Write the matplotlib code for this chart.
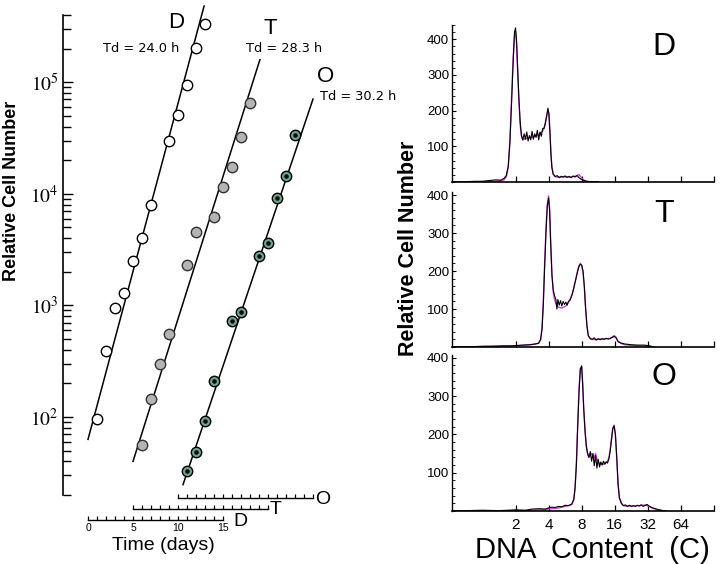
import numpy as np
import matplotlib
matplotlib.use('Agg')
import matplotlib.pyplot as plt
from matplotlib.ticker import FixedLocator, MultipleLocator, NullFormatter, FixedFormatter

plt.rcParams['font.family'] = ['Liberation Sans', 'DejaVu Sans']
plt.rcParams['mathtext.fontset'] = 'stix'

# ---- growth curves (days since start of each culture, relative cell number)
d_days = [1, 2, 3, 4, 5, 6, 7, 9, 10, 11, 12, 13]
d_cells = [95, 390, 940, 1300, 2500, 4000, 8000, 30000, 51000, 94000, 204000, 330000]
t_days = [1, 2, 3, 4, 6, 7, 9, 10, 11, 12, 13]
t_cells = [56, 145, 300, 550, 2300, 4500, 6200, 11500, 17500, 32000, 65000]
o_days = [1, 2, 3, 4, 6, 7, 9, 10, 11, 12, 13]
o_cells = [33, 49, 93, 210, 720, 865, 2750, 3650, 9200, 14500, 33500]
day_offsets = [0, 5, 10]            # where each culture's day 0 sits on the shared axis
doubling_h = [24.0, 28.3, 30.2]
fit_n0 = [63, 40, 18.2]             # fitted cell number at day 0
fit_span = [(0, 12.9), (0, 14.1), (0.56, 15.0)]

# ---- DNA histograms: position in doublings (log2 C), black = data, magenta = fit
hd_x = [-0.92, -0.5, -0.2, 0.0, 0.2, 0.4, 0.55, 0.65, 0.72, 0.78,
        0.83, 0.88, 0.93, 0.97, 1.0, 1.03, 1.06, 1.1, 1.14, 1.18,
        1.22, 1.26, 1.3, 1.34, 1.38, 1.42, 1.46, 1.5, 1.54, 1.58,
        1.62, 1.66, 1.7, 1.74, 1.78, 1.82, 1.86, 1.9, 1.94, 1.98,
        2.01, 2.04, 2.07, 2.1, 2.14, 2.2, 2.26, 2.32, 2.38, 2.44,
        2.5, 2.56, 2.62, 2.68, 2.74, 2.8, 2.86, 2.92, 2.98, 3.05,
        3.15, 3.3, 3.5]
hd_black = [0, 1, 2, 2, 4, 6, 5, 10, 18, 45,
            110, 220, 340, 420, 432, 400, 330, 240, 170, 130,
            118, 135, 120, 140, 115, 130, 118, 142, 120, 135,
            125, 145, 118, 140, 128, 150, 150, 165, 185, 207,
            190, 140, 80, 40, 22, 15, 18, 12, 16, 14,
            17, 13, 16, 12, 17, 14, 18, 12, 8, 5,
            2, 1, 0]
hd_fit = [0, 0, 0, 0, 1, 2, 3, 6, 14, 40,
          115, 235, 350, 410, 420, 390, 320, 230, 160, 128,
          118, 120, 121, 122, 123, 124, 125, 126, 127, 128,
          129, 131, 133, 136, 139, 143, 150, 163, 182, 200,
          192, 142, 82, 42, 22, 15, 14, 14, 14, 14,
          14, 14, 14, 14, 15, 16, 18, 21, 14, 6,
          2, 0, 0]

ht_x = [-0.92, -0.6, -0.3, 0.0, 0.3, 0.6, 0.9, 1.2, 1.45, 1.6,
        1.7, 1.76, 1.8, 1.84, 1.88, 1.92, 1.96, 2.0, 2.03, 2.06,
        2.1, 2.14, 2.18, 2.22, 2.25, 2.28, 2.32, 2.36, 2.4, 2.44,
        2.48, 2.52, 2.56, 2.6, 2.64, 2.68, 2.72, 2.76, 2.8, 2.84,
        2.88, 2.92, 2.96, 3.0, 3.04, 3.08, 3.12, 3.16, 3.2, 3.26,
        3.32, 3.38, 3.44, 3.5, 3.56, 3.62, 3.68, 3.74, 3.8, 3.86,
        3.92, 3.98, 4.04, 4.1, 4.2, 4.3, 4.5, 4.7, 4.9, 5.05,
        5.2]
ht_black = [0, 1, 1, 2, 2, 3, 3, 5, 6, 8,
            10, 20, 45, 110, 210, 300, 370, 392, 360, 280,
            190, 150, 135, 125, 100, 125, 110, 122, 108, 120,
            112, 118, 110, 120, 122, 130, 140, 155, 170, 185,
            200, 212, 218, 215, 200, 160, 100, 55, 30, 22,
            20, 24, 18, 22, 19, 22, 20, 23, 21, 22,
            25, 28, 24, 14, 10, 8, 6, 5, 5, 3,
            0]
ht_fit = [0, 0, 0, 1, 2, 2, 3, 4, 6, 8,
          10, 20, 50, 120, 220, 310, 375, 398, 365, 285,
          195, 145, 125, 115, 110, 106, 104, 103, 103, 104,
          106, 108, 112, 118, 124, 132, 142, 155, 170, 186,
          202, 214, 220, 215, 198, 158, 100, 55, 30, 22,
          20, 20, 20, 20, 21, 21, 21, 22, 22, 23,
          26, 30, 26, 15, 9, 6, 4, 3, 2, 1,
          0]

ho_x = [-0.92, -0.5, 0.0, 0.5, 1.0, 1.3, 1.5, 1.7, 1.9, 2.0,
        2.1, 2.2, 2.3, 2.4, 2.5, 2.6, 2.7, 2.76, 2.8, 2.84,
        2.88, 2.92, 2.96, 3.0, 3.03, 3.06, 3.1, 3.14, 3.18, 3.22,
        3.26, 3.3, 3.34, 3.38, 3.42, 3.46, 3.5, 3.54, 3.58, 3.62,
        3.66, 3.7, 3.74, 3.78, 3.82, 3.86, 3.9, 3.94, 3.98, 4.02,
        4.06, 4.1, 4.14, 4.2, 4.26, 4.32, 4.38, 4.44, 4.5, 4.56,
        4.62, 4.68, 4.74, 4.8, 4.86, 4.92, 4.98, 5.05, 5.15, 5.3,
        5.45, 5.55]
ho_black = [0, 1, 2, 1, 3, 2, 5, 6, 5, 8,
            10, 9, 12, 11, 15, 14, 18, 30, 60, 120,
            220, 310, 370, 379, 330, 270, 210, 170, 150, 140,
            155, 130, 150, 118, 145, 112, 135, 115, 128, 120,
            130, 122, 128, 125, 135, 155, 185, 215, 222, 200,
            140, 70, 35, 20, 14, 16, 12, 15, 12, 14,
            12, 15, 13, 16, 12, 15, 17, 12, 8, 4,
            1, 0]
ho_fit = [0, 0, 0, 0, 1, 1, 2, 3, 4, 5,
          6, 7, 8, 10, 12, 14, 17, 28, 58, 125,
          230, 320, 372, 375, 335, 272, 212, 168, 148, 140,
          145, 150, 146, 138, 150, 135, 128, 124, 122, 121,
          122, 124, 127, 130, 138, 158, 188, 216, 224, 198,
          138, 70, 34, 20, 14, 13, 13, 13, 13, 13,
          13, 14, 14, 15, 15, 15, 14, 11, 7, 3,
          1, 0]

dna_ticks = [2, 4, 8, 16, 32, 64, 128]
dna_labels = ['2', '4', '8', '16', '32', '64', '']

W, H = 720, 564
fig = plt.figure(figsize=(7.2, 5.64), dpi=100)


def box(x0, y0, x1, y1):
    # pixel box measured from the top-left corner -> figure rect
    return [x0 / W, 1 - y1 / H, (x1 - x0) / W, (y1 - y0) / H]


def ftext(x, y, s, **kw):
    fig.text(x / W, 1 - y / H, s, **kw)


# ================= left: growth curves =================
ax = fig.add_axes(box(63, 15, 380, 495))
ax.set_facecolor('none')
ax.set_yscale('log')
ax.set_ylim(20, 4e5)
ax.set_xlim((63 - 88) / 9, (380 - 88) / 9)
for s in ['top', 'right', 'bottom']:
    ax.spines[s].set_visible(False)
ax.spines['left'].set_linewidth(1.2)
ax.set_xticks([])
ax.yaxis.set_major_locator(FixedLocator([1e2, 1e3, 1e4, 1e5]))
ax.yaxis.set_major_formatter(FixedFormatter([r'$\mathrm{10^{%d}}$' % k for k in [2, 3, 4, 5]]))
ax.yaxis.set_minor_locator(FixedLocator([m * 10.0 ** k for k in range(1, 6) for m in range(2, 10)
                                         if 20 <= m * 10.0 ** k <= 4e5]))
ax.yaxis.set_minor_formatter(NullFormatter())
ax.tick_params(axis='y', which='major', direction='in', length=7, width=1.0, labelsize=14, pad=3)
ax.tick_params(axis='y', which='minor', direction='in', length=6, width=1.0)

styles = [dict(mfc='white', mec='black'),
          dict(mfc='#b4b4b4', mec='#333333'),
          dict(mfc='#6aa48c', mec='black')]
series = [(d_days, d_cells), (t_days, t_cells), (o_days, o_cells)]
for i, (days, cells) in enumerate(series):
    off = day_offsets[i]
    rate = 24.0 / doubling_h[i]
    t0, t1 = fit_span[i]
    tt = np.array([t0, t1])
    ax.plot(tt + off, fit_n0[i] * 2 ** (rate * tt), color='black', lw=1.1, clip_on=False, zorder=2)
    ax.plot(np.array(days) + off, cells, 'o', ms=7.5, mew=1.0, clip_on=False, zorder=3, **styles[i])
    if i == 2:
        ax.plot(np.array(days) + off, cells, 'o', ms=2.2, color='black', clip_on=False, zorder=4)

# curve labels
ftext(176, 23, 'D', fontsize=16, ha='center', va='center')
ftext(141, 48, 'Td = 24.0 h', fontsize=9.3, ha='center', va='center', family='DejaVu Sans')
ftext(270, 28, 'T', fontsize=16, ha='center', va='center')
ftext(284, 48, 'Td = 28.3 h', fontsize=9.3, ha='center', va='center', family='DejaVu Sans')
ftext(326, 76, 'O', fontsize=16, ha='center', va='center')
ftext(358, 97, 'Td = 30.2 h', fontsize=9.3, ha='center', va='center', family='DejaVu Sans')

# three staggered time scales
scale_y = [520, 509, 498]
scale_names = ['D', 'T', 'O']
for i in range(3):
    x0 = 88 + 9 * day_offsets[i]
    tax = fig.add_axes(box(x0, scale_y[i] - 1, x0 + 135, scale_y[i]))
    tax.set_facecolor('none')
    for s in ['top', 'right', 'left']:
        tax.spines[s].set_visible(False)
    tax.spines['bottom'].set_linewidth(1.0)
    tax.set_yticks([])
    tax.set_xlim(0, 15)
    tax.xaxis.set_major_locator(MultipleLocator(5))
    tax.xaxis.set_minor_locator(MultipleLocator(1))
    tax.tick_params(axis='x', which='both', direction='in', length=3, width=0.9,
                    labelsize=7.5, pad=2, labelbottom=(i == 0))
    gap = 10 if i == 0 else 2
    ftext(x0 + 135 + gap, scale_y[i] + 1, scale_names[i], fontsize=14, ha='left', va='center')

ftext(163, 545, 'Time (days)', fontsize=14, ha='center', va='center')
ftext(12, 191, 'Relative Cell Number', fontsize=13, fontweight='bold',
      rotation=90, ha='center', va='center')

# ================= right: DNA content histograms =================
panels = [('D', hd_x, hd_black, hd_fit, (452, 25, 714, 182), 440),
          ('T', ht_x, ht_black, ht_fit, (452, 192, 714, 347), 408),
          ('O', ho_x, ho_black, ho_fit, (452, 355, 714, 511), 407)]
for k, (name, xs, black, fit, rect, ytop) in enumerate(panels):
    hax = fig.add_axes(box(*rect))
    hax.set_facecolor('none')
    xs = 2.0 ** np.array(xs)
    hax.plot(xs, fit, color='#d040d8', lw=1.0)
    hax.plot(xs, black, color='black', lw=0.8)
    hax.set_xscale('log', base=2)
    hax.set_xlim(2 ** -0.92, 128)
    hax.set_ylim(0, ytop)
    for s in ['top', 'right']:
        hax.spines[s].set_visible(False)
    hax.spines['left'].set_linewidth(1.0)
    hax.spines['bottom'].set_linewidth(1.2)
    hax.xaxis.set_major_locator(FixedLocator(dna_ticks))
    hax.xaxis.set_minor_locator(FixedLocator([]))
    if k == 2:
        hax.xaxis.set_major_formatter(FixedFormatter(dna_labels))
    else:
        hax.xaxis.set_major_formatter(NullFormatter())
    hax.set_yticks([100, 200, 300, 400])
    hax.yaxis.set_minor_locator(MultipleLocator(20))
    hax.tick_params(axis='x', direction='in', length=4, width=0.9, labelsize=11, pad=5)
    hax.tick_params(axis='y', which='major', direction='in', length=3, width=0.8, labelsize=9.5, pad=2)
    hax.tick_params(axis='y', which='minor', direction='in', length=2, width=0.6)
    hax.text(0.81, 0.86, name, transform=hax.transAxes, fontsize=23, ha='center', va='center')

ftext(409, 248, 'Relative Cell Number', fontsize=15.5, fontweight='bold',
      rotation=90, ha='center', va='center')
ftext(592, 550, 'DNA  Content  (C)', fontsize=21, ha='center', va='center')

fig.savefig('out.png', dpi=100)
